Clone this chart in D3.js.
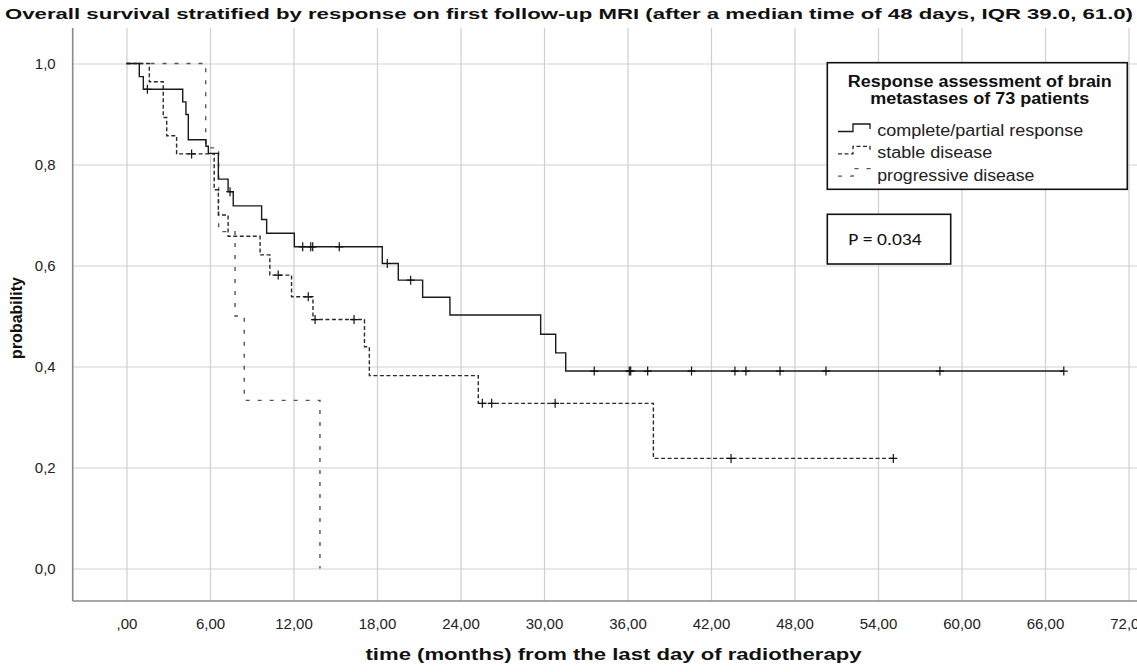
<!DOCTYPE html>
<html><head><meta charset="utf-8">
<script src="https://cdn.jsdelivr.net/npm/d3@7"></script>
<style>
html,body{margin:0;padding:0;background:#fff;}
svg{display:block;font-family:"Liberation Sans",Arial,sans-serif;}
</style></head>
<body>
<svg id="chart" width="1137" height="672"></svg>
<script>
// ---------- data ----------
const seriesNames = ["complete/partial response", "stable disease", "progressive disease"];

// complete/partial response
const cprTimes  = [0, 0.92, 1.21, 4.04, 4.27, 4.44, 5.71, 5.88, 6.6, 7.3, 7.67, 9.71, 10.07, 12.06, 18.38, 19.53, 21.28, 23.24, 29.76, 30.84, 31.56];
const cprSurv   = [1, 0.974, 0.949, 0.924, 0.899, 0.849, 0.836, 0.822, 0.771, 0.746, 0.718, 0.691, 0.664, 0.637, 0.604, 0.571, 0.537, 0.502, 0.464, 0.427, 0.391];
const cprCensor = [1.5, 7.44, 12.66, 13.24, 13.38, 15.29, 18.74, 20.42, 33.61, 36.13, 36.23, 37.45, 40.6, 43.72, 44.51, 46.96, 50.26, 58.45, 67.35];

// stable disease
const sdTimes  = [0, 1.64, 2.64, 2.89, 3.6, 6.3, 6.6, 7.3, 9.6, 10.3, 11.86, 13.4, 17.1, 17.45, 25.28, 37.86];
const sdSurv   = [1, 0.964, 0.893, 0.857, 0.821, 0.75, 0.70, 0.658, 0.621, 0.581, 0.538, 0.493, 0.439, 0.382, 0.327, 0.218];
const sdCensor = [4.68, 10.9, 13.06, 13.55, 16.35, 25.57, 26.24, 30.8, 43.44, 55.1];

// progressive disease
const pdTimes  = [0, 5.69, 6.62, 7.8, 8.46, 13.9];
const pdSurv   = [1, 0.833, 0.667, 0.5, 0.333, 0];
const pdCensor = [];

// axis ticks
const xTickValues = [0, 6, 12, 18, 24, 30, 36, 42, 48, 54, 60, 66, 72];
const yTickValues = [0, 0.2, 0.4, 0.6, 0.8, 1.0];

const titleText = "Overall survival stratified by response on first follow-up MRI (after a median time of 48 days, IQR 39.0, 61.0)";
const xTitle = "time (months) from the last day of radiotherapy";
const yTitle = "probability";
const legendTitle = ["Response assessment of brain", "metastases of 73 patients"];
const pText = "P = 0.034";

// ---------- layout ----------
const W = 1137, H = 672;
const plot = {left: 72.7, right: 1137, top: 28, bottom: 601};
const x = d3.scaleLinear().domain([0, 72]).range([126.5, 1128.5]);
const y = d3.scaleLinear().domain([0, 1]).range([568.5, 63.5]);

const svg = d3.select("#chart");
svg.append("rect").attr("width", W).attr("height", H).attr("fill", "#fff");

const comma = (s) => s.replace(".", ",");

// x axis with gridlines
const gx = svg.append("g").attr("transform", `translate(0,${plot.bottom})`)
  .call(d3.axisBottom(x).tickValues(xTickValues)
    .tickSize(-(plot.bottom - plot.top)).tickPadding(17)
    .tickFormat(d => d === 0 ? ",00" : comma(d3.format(".2f")(d))));
gx.select(".domain").remove();
gx.selectAll(".tick line").attr("stroke", "#cfcfcf").attr("stroke-width", 1.2);
gx.selectAll(".tick text").attr("fill", "#222").style("font-size", "15px")
  .style("font-family", "'Liberation Sans', Arial, sans-serif");

// y axis with gridlines
const gy = svg.append("g").attr("transform", `translate(${plot.left},0)`)
  .call(d3.axisLeft(y).tickValues(yTickValues)
    .tickSize(-(plot.right - plot.left)).tickPadding(17)
    .tickFormat(d => comma(d3.format(".1f")(d))));
gy.select(".domain").remove();
gy.selectAll(".tick line").attr("stroke", "#cfcfcf").attr("stroke-width", 1.2);
gy.selectAll(".tick text").attr("fill", "#222").style("font-size", "15px")
  .style("font-family", "'Liberation Sans', Arial, sans-serif");

// axis lines
svg.append("line").attr("x1", plot.left).attr("x2", plot.left).attr("y1", plot.top).attr("y2", plot.bottom)
  .attr("stroke", "#8a8a8a").attr("stroke-width", 1.6);
svg.append("line").attr("x1", plot.left).attr("x2", plot.right).attr("y1", plot.bottom).attr("y2", plot.bottom)
  .attr("stroke", "#8a8a8a").attr("stroke-width", 1.6);

// ---------- curves ----------
function stepPoints(times, surv, censor) {
  const pts = times.map((t, i) => [t, surv[i]]);
  const lastT = Math.max(times[times.length - 1], censor.length ? d3.max(censor) : 0);
  pts.push([lastT, surv[surv.length - 1]]);
  return pts;
}
function survAt(times, surv, t) {
  let s = surv[0];
  for (let i = 0; i < times.length; i++) if (times[i] <= t) s = surv[i];
  return s;
}
const line = d3.line().x(d => x(d[0])).y(d => y(d[1])).curve(d3.curveStepAfter);

const series = [
  {times: cprTimes, surv: cprSurv, censor: cprCensor, color: "#1a1a1a", dash: null, width: 1.4},
  {times: sdTimes, surv: sdSurv, censor: sdCensor, color: "#2a2a2a", dash: "4,2.5", width: 1.4},
  {times: pdTimes, surv: pdSurv, censor: pdCensor, color: "#555", dash: "4,8", width: 1.4}
];

// draw in reverse so solid is on top
series.slice().reverse().forEach(s => {
  svg.append("path").attr("d", line(stepPoints(s.times, s.surv, s.censor)))
    .attr("fill", "none").attr("stroke", s.color).attr("stroke-width", s.width)
    .attr("stroke-dasharray", s.dash);
  s.censor.forEach(t => {
    const cx = x(t), cy = y(survAt(s.times, s.surv, t));
    svg.append("path").attr("d", `M${cx - 4},${cy}H${cx + 4}M${cx},${cy - 4.5}V${cy + 4.5}`)
      .attr("stroke", "#111").attr("stroke-width", 1.2).attr("fill", "none");
  });
});

// ---------- texts ----------
svg.append("text").attr("x", 5).attr("y", 19).attr("textLength", 1128).attr("lengthAdjust", "spacingAndGlyphs")
  .style("font-size", "15px").style("font-weight", "bold").attr("fill", "#111").text(titleText);

svg.append("text").attr("x", 365.5).attr("y", 660).attr("textLength", 496).attr("lengthAdjust", "spacingAndGlyphs")
  .style("font-size", "17px").style("font-weight", "bold").attr("fill", "#111").text(xTitle);

svg.append("text").attr("transform", "translate(22,318) rotate(-90)").attr("text-anchor", "middle")
  .style("font-size", "16px").style("font-weight", "bold").attr("fill", "#111").text(yTitle);

// ---------- legend ----------
const lg = {x: 827.3, y: 62.7, w: 300, h: 126.6};
svg.append("rect").attr("x", lg.x).attr("y", lg.y).attr("width", lg.w).attr("height", lg.h)
  .attr("fill", "#fff").attr("stroke", "#111").attr("stroke-width", 1.6);
const ltWidths = [264, 219];
legendTitle.forEach((t, i) => {
  svg.append("text").attr("x", lg.x + 152.5 - ltWidths[i] / 2).attr("y", 86.7 + i * 17.6)
    .attr("textLength", ltWidths[i]).attr("lengthAdjust", "spacingAndGlyphs")
    .style("font-size", "16px").style("font-weight", "bold").attr("fill", "#111").text(t);
});
const itemWidths = [206, 115, 157];
series.forEach((s, i) => {
  const by = 136 + i * 22.3;
  const iy = by - 4.5;
  svg.append("path").attr("d", `M838,${iy}H853V${iy - 7.5}H870V${iy - 2.5}`)
    .attr("fill", "none").attr("stroke", s.color).attr("stroke-width", 1.3)
    .attr("stroke-dasharray", s.dash);
  svg.append("text").attr("x", 877.3).attr("y", by)
    .attr("textLength", itemWidths[i]).attr("lengthAdjust", "spacingAndGlyphs")
    .style("font-size", "16px").attr("fill", "#222").text(seriesNames[i]);
});

// p-value box
svg.append("rect").attr("x", 827.3).attr("y", 214.3).attr("width", 123.4).attr("height", 49.7)
  .attr("fill", "#fff").attr("stroke", "#111").attr("stroke-width", 1.6);
svg.append("text").attr("x", 848.3).attr("y", 245).attr("textLength", 73.4).attr("lengthAdjust", "spacingAndGlyphs")
  .style("font-size", "17px").attr("fill", "#111").style("font-family", "Carlito, 'Liberation Sans', Arial, sans-serif").text(pText);
</script>
</body></html>
